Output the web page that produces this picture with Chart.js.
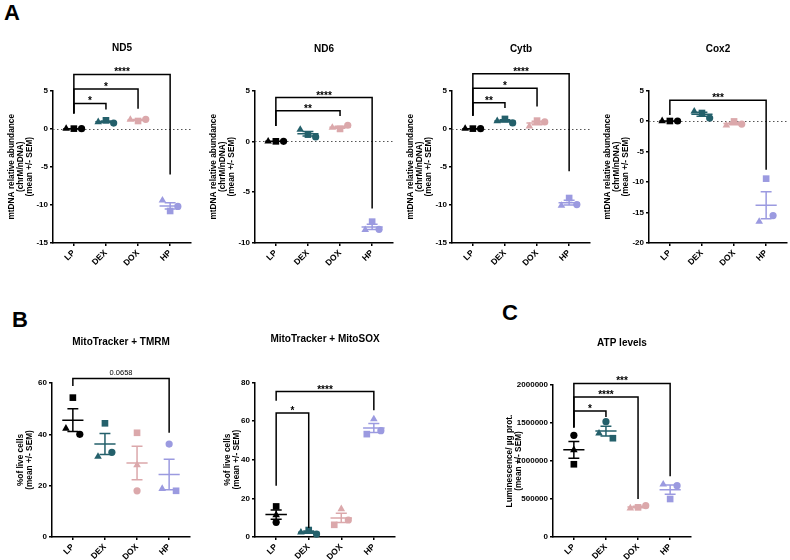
<!DOCTYPE html>
<html><head><meta charset="utf-8">
<script src="https://cdn.jsdelivr.net/npm/chart.js@4/dist/chart.umd.min.js"></script>
<style>
html,body{margin:0;padding:0;background:#fff;}
body{width:790px;height:560px;position:relative;overflow:hidden;font-family:Arial,"Liberation Sans",sans-serif;}
canvas{position:absolute;}
.letter{position:absolute;font-weight:bold;font-size:22px;line-height:22px;color:#000;}
</style></head><body>
<div class="letter" style="left:4px;top:2px">A</div>
<div class="letter" style="left:12px;top:309px">B</div>
<div class="letter" style="left:502px;top:302px">C</div>
<script>
// ---------- data ----------
const categories = ['LP', 'DEX', 'DOX', 'HP'];

const nd5Triangle = [0, 0.87, 1.18, -9.4];
const nd5Square   = [0, 1.09, 1.0, -10.8];
const nd5Circle   = [0, 0.73, 1.22, -10.2];

const nd6Triangle = [0, 1.16, 1.35, -8.7];
const nd6Square   = [0, 0.66, 1.22, -7.9];
const nd6Circle   = [0, 0.43, 1.58, -8.65];

const cytbTriangle = [0, 1.0, 0.3, -10.1];
const cytbSquare   = [0, 1.27, 1.05, -9.1];
const cytbCircle   = [0, 0.75, 0.88, -9.96];

const cox2Triangle = [0, 1.57, -0.72, -16.5];
const cox2Square   = [0, 1.31, -0.07, -9.45];
const cox2Circle   = [0, 0.49, -0.5, -15.5];

const tmrmTriangle = [42.3, 31.3, 28, 18.8];
const tmrmSquare   = [54.3, 44.3, 40.6, 18];
const tmrmCircle   = [40, 33, 18, 36.2];

const soxTriangle = [11.4, 2.4, 14.5, 61];
const soxSquare   = [15.8, 3.6, 6.3, 53.2];
const soxCircle   = [7.6, 1.5, 8.8, 55];

const atpTriangle = [1145000, 1364000, 378000, 693000];
const atpSquare   = [957000, 1300000, 390000, 500000];
const atpCircle   = [1338000, 1517000, 412000, 675000];

// brackets: [from group, to group, bar level, left leg end, right leg end, label]
const nd5Brackets  = [[0,1,3.3,2.0,2.5,'*'],[0,2,5.2,2.0,2.6,'*'],[0,3,7.1,2.0,-6.0,'****']];
const nd6Brackets  = [[0,2,3.0,1.5,2.5,'**'],[0,3,4.3,1.5,-6.6,'****']];
const cytbBrackets = [[0,1,3.4,1.7,2.7,'**'],[0,2,5.3,1.7,2.9,'*'],[0,3,7.2,1.7,-5.6,'****']];
const cox2Brackets = [[0,3,3.4,1.0,-8.0,'***']];
const tmrmBrackets = [[0,3,61.8,58.8,40.6,'0.0658']];
const soxBrackets  = [[0,1,64.1,26.5,4.6,'*'],[0,3,75.2,70.5,65.6,'****']];
const atpBrackets  = [[0,1,1658000,1440000,1580000,'*'],[0,2,1842000,1440000,500000,'****'],[0,3,2020000,1440000,800000,'***']];

const mtTitle = ['mtDNA relative abundance', '(chrM/nDNA)', '(mean +/- SEM)'];
const liveTitle = ['%of live cells', '(mean +/- SEM)'];
const atpTitle = ['Luminescence/ \u00b5g prot.', '(mean +/- SEM)'];

// ---------- style ----------
const groupColors = ['#000000', '#24606b', '#dba8ab', '#9b9ae0'];
const FONT = 'Arial, "Liberation Sans", sans-serif';
Chart.defaults.font.family = FONT;
Chart.defaults.color = '#000';

const markerStyles = ['triangle', 'rect', 'circle'];
const markerRadii = [4.4, 4.7, 3.6];

function meanSem(vals) {
  const n = vals.length;
  const m = vals.reduce((a, b) => a + b, 0) / n;
  const sd = Math.sqrt(vals.reduce((a, b) => a + (b - m) * (b - m), 0) / (n - 1));
  return [m, sd / Math.sqrt(n)];
}

function errorBarData(i, m, s) {
  const W = 0.33, C = 0.17;
  return [
    {x: i - W, y: m}, {x: i + W, y: m}, {x: i, y: null},
    {x: i, y: m - s}, {x: i, y: m + s}, {x: i, y: null},
    {x: i - C, y: m + s}, {x: i + C, y: m + s}, {x: i, y: null},
    {x: i - C, y: m - s}, {x: i + C, y: m - s}
  ];
}

function jitter(series, range) {
  const thr = 0.046 * range, step = 0.24;
  const offs = series.map(() => categories.map(() => 0));
  categories.forEach((c, i) => {
    const pts = series.map((s, k) => ({k, v: s[i]})).sort((a, b) => a.v - b.v);
    const clusters = [[pts[0]]];
    for (let j = 1; j < pts.length; j++) {
      const last = clusters[clusters.length - 1];
      if (pts[j].v - last[last.length - 1].v < thr) last.push(pts[j]); else clusters.push([pts[j]]);
    }
    clusters.forEach(cl => {
      cl.sort((a, b) => a.k - b.k);
      const n = cl.length;
      cl.forEach((p, j) => { offs[p.k][i] = n === 1 ? 0 : (j - (n - 1) / 2) * (n === 2 ? 1.8 : 1) * step; });
    });
  });
  return offs;
}

const annotPlugin = {
  id: 'annot',
  beforeDatasetsDraw(chart, args, opts) {
    if (!opts.zeroLine) return;
    const {ctx, chartArea, scales: {y}} = chart;
    const py = Math.round(y.getPixelForValue(0)) + 0.5;
    ctx.save();
    ctx.strokeStyle = '#555'; ctx.lineWidth = 1; ctx.setLineDash([1.5, 2.5]);
    ctx.beginPath(); ctx.moveTo(chartArea.left, py); ctx.lineTo(chartArea.right, py); ctx.stroke();
    ctx.restore();
  },
  afterDatasetsDraw(chart, args, opts) {
    const list = opts.items || [];
    const {ctx, scales: {x, y}} = chart;
    ctx.save();
    ctx.strokeStyle = '#000'; ctx.lineWidth = 1.5; ctx.lineJoin = 'miter';
    list.forEach(b => {
      const [a, c, level, leftEnd, rightEnd, label] = b;
      const xa = x.getPixelForValue(a), xc = x.getPixelForValue(c);
      const yl = y.getPixelForValue(level);
      ctx.beginPath();
      ctx.moveTo(xa, y.getPixelForValue(leftEnd));
      ctx.lineTo(xa, yl); ctx.lineTo(xc, yl);
      ctx.lineTo(xc, y.getPixelForValue(rightEnd));
      ctx.stroke();
      const stars = /^\*+$/.test(label);
      ctx.fillStyle = '#000';
      ctx.font = (stars ? 'bold 10px ' : '7.5px ') + FONT;
      ctx.textAlign = 'center'; ctx.textBaseline = 'alphabetic';
      ctx.fillText(label, (xa + xc) / 2, yl + (stars ? 1 : -3));
    });
    ctx.restore();
  }
};

function makeChart(spec) {
  const YW = 56, XH = 30, PR = 6, TLH = 12;
  const [cl, cr, ct, cb] = spec.area;
  const left = cl - YW;
  const top = Math.round(spec.titleY - TLH / 2);
  const w = Math.round(cr - cl + YW + PR);
  const h = Math.round(cb - top + XH);
  const canvas = document.createElement('canvas');
  canvas.width = w; canvas.height = h;
  canvas.style.left = left + 'px'; canvas.style.top = top + 'px';
  canvas.style.width = w + 'px'; canvas.style.height = h + 'px';
  document.body.appendChild(canvas);

  const [ymin, ymax, ystep] = spec.y;
  const offs = jitter(spec.series, ymax - ymin);
  const datasets = [];
  categories.forEach((c, i) => {
    const [m, s] = meanSem(spec.series.map(arr => arr[i]));
    datasets.push({
      data: errorBarData(i, m, s), showLine: true, spanGaps: false,
      borderColor: groupColors[i], borderWidth: 1.5, pointRadius: 0, clip: false
    });
  });
  spec.series.forEach((arr, k) => {
    datasets.push({
      data: arr.map((v, i) => ({x: i + offs[k][i], y: v})),
      showLine: false, pointStyle: markerStyles[k], pointRadius: markerRadii[k],
      pointBackgroundColor: groupColors, pointBorderColor: groupColors, pointBorderWidth: 0,
      clip: false
    });
  });

  new Chart(canvas, {
    type: 'scatter',
    data: {datasets},
    options: {
      responsive: false, animation: false, events: [],
      layout: {padding: {left: 0, right: PR, top: 0, bottom: 0}},
      plugins: {
        legend: {display: false}, tooltip: {enabled: false},
        title: {display: true, text: spec.title, fullSize: false, color: '#000',
          font: {size: 10, weight: 'bold', lineHeight: 1.2}, padding: {top: 0, bottom: ct - top - TLH}},
        annot: {items: spec.brackets, zeroLine: !!spec.zero}
      },
      scales: {
        x: {
          type: 'linear', min: -0.65, max: 3.65,
          afterBuildTicks: s => { s.ticks = categories.map((c, i) => ({value: i})); },
          afterFit: s => { s.height = XH; },
          ticks: {minRotation: 45, maxRotation: 45, autoSkip: false, padding: 2,
            font: {size: 8.5, weight: 'bold'}, color: '#000',
            callback: v => categories[v]},
          grid: {display: true, drawOnChartArea: false, drawTicks: true, tickLength: 3, color: '#000', lineWidth: 1.5},
          border: {display: true, color: '#000', width: 1.5}
        },
        y: {
          type: 'linear', min: ymin, max: ymax,
          afterFit: s => { s.width = YW; },
          ticks: {stepSize: ystep, padding: 2, font: {size: 8, weight: 'bold'}, color: '#000',
            callback: v => String(v)},
          grid: {display: true, drawOnChartArea: false, drawTicks: true, tickLength: 3, color: '#000', lineWidth: 1.5},
          border: {display: true, color: '#000', width: 1.5},
          title: {display: true, text: spec.ytitle, color: '#000',
            font: {size: 8.3, weight: 'bold', lineHeight: 1.1},
            padding: {top: YW - spec.D - 4.6, bottom: 0}}
        }
      }
    },
    plugins: [annotPlugin]
  });
}

const specs = [
  {title: 'ND5', area: [53, 191, 90.5, 243], titleY: 48, y: [-15, 5, 5], ytitle: mtTitle, D: 41.5, zero: true,
   series: [nd5Triangle, nd5Square, nd5Circle], brackets: nd5Brackets},
  {title: 'ND6', area: [255, 393, 90.5, 243], titleY: 49, y: [-10, 5, 5], ytitle: mtTitle, D: 41.5, zero: true,
   series: [nd6Triangle, nd6Square, nd6Circle], brackets: nd6Brackets},
  {title: 'Cytb', area: [452, 590, 90.5, 243], titleY: 49, y: [-15, 5, 5], ytitle: mtTitle, D: 41.5, zero: true,
   series: [cytbTriangle, cytbSquare, cytbCircle], brackets: cytbBrackets},
  {title: 'Cox2', area: [649, 787, 90.5, 243], titleY: 49, y: [-20, 5, 5], ytitle: mtTitle, D: 41.5, zero: true,
   series: [cox2Triangle, cox2Square, cox2Circle], brackets: cox2Brackets},
  {title: 'MitoTracker + TMRM', area: [52, 190, 383, 537], titleY: 342, y: [0, 60, 20], ytitle: liveTitle, D: 31,
   series: [tmrmTriangle, tmrmSquare, tmrmCircle], brackets: tmrmBrackets},
  {title: 'MitoTracker + MitoSOX', area: [255, 395, 382.3, 536.5], titleY: 339, y: [0, 80, 20], ytitle: liveTitle, D: 27,
   series: [soxTriangle, soxSquare, soxCircle], brackets: soxBrackets},
  {title: 'ATP levels', area: [553, 691, 385, 537], titleY: 343, y: [0, 2000000, 500000], ytitle: atpTitle, D: 43,
   series: [atpTriangle, atpSquare, atpCircle], brackets: atpBrackets}
];
specs.forEach(makeChart);
</script>
</body></html>
